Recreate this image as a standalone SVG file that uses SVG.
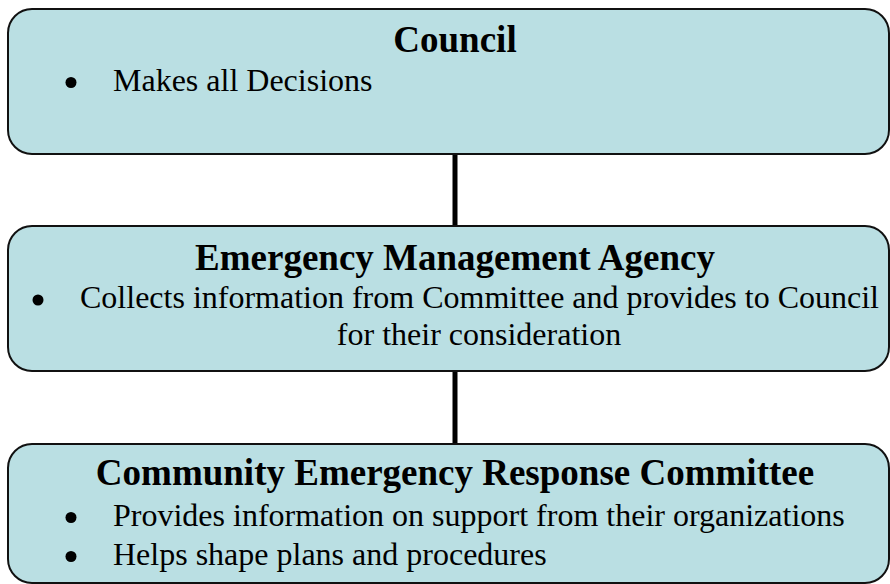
<svg xmlns="http://www.w3.org/2000/svg" width="890" height="584" viewBox="0 0 890 584">
<style>
.box{fill:#badfe3;stroke:#111;stroke-width:2}
.title{font-family:"Liberation Serif","Times New Roman",serif;font-weight:bold;font-size:37px;fill:#000;text-anchor:middle}
.body{font-family:"Liberation Serif","Times New Roman",serif;font-size:32px;fill:#000}
.bullet{fill:#000}
.conn{stroke:#000;stroke-width:5;fill:none}
</style>
<rect width="890" height="584" fill="#fff"/>
<g id="connectors">
<line class="conn" x1="455" y1="154" x2="455" y2="227"/>
<line class="conn" x1="455" y1="371" x2="455" y2="445"/>
</g>
<g id="council">
<rect class="box" x="8" y="9" width="881" height="145" rx="24"/>
<text class="title" x="455" y="52">Council</text>
<circle class="bullet" cx="71" cy="82.5" r="5.5"/>
<text class="body" x="113" y="91">Makes all Decisions</text>
</g>
<g id="ema">
<rect class="box" x="8" y="226" width="881" height="145" rx="24"/>
<text class="title" x="455" y="270">Emergency Management Agency</text>
<circle class="bullet" cx="38" cy="300" r="5.5"/>
<text class="body" x="80" y="308">Collects information from Committee and provides to Council</text>
<text class="body" x="479" y="345" text-anchor="middle">for their consideration</text>
</g>
<g id="cerc">
<rect class="box" x="8" y="444" width="881" height="139" rx="24"/>
<text class="title" x="455" y="485">Community Emergency Response Committee</text>
<circle class="bullet" cx="71" cy="517.5" r="5.5"/>
<text class="body" x="113" y="526">Provides information on support from their organizations</text>
<circle class="bullet" cx="71" cy="556.5" r="5.5"/>
<text class="body" x="113" y="565">Helps shape plans and procedures</text>
</g>
</svg>
